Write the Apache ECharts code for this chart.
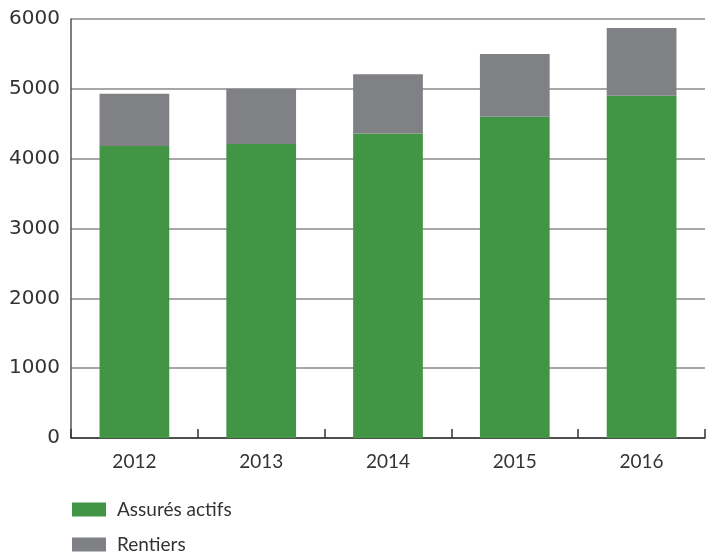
<!DOCTYPE html>
<html>
<head>
<meta charset="utf-8">
<script src="https://cdn.jsdelivr.net/npm/echarts@6/dist/echarts.min.js"></script>
<style>html,body{margin:0;padding:0;background:#fff}#c{width:707px;height:557px}</style>
</head>
<body>
<div id="c"></div>
<script>
const categories = ['2012', '2013', '2014', '2015', '2016'];
const assuresActifs = [4180, 4210, 4360, 4600, 4900];
const rentiers = [750, 790, 850, 900, 970];
const seriesNames = ['Assurés actifs', 'Rentiers'];

const chart = echarts.init(document.getElementById('c'));
const font = 'Lato, "Open Sans", sans-serif';
const legendBase = {
  left: 72, padding: 0,
  itemWidth: 34, itemHeight: 14,
  icon: 'rect',
  textStyle: { fontSize: 19, color: '#333', fontFamily: font, padding: [0, 0, 0, 6] }
};
chart.setOption({
  animation: false,
  textStyle: { fontFamily: font },
  grid: { left: 71, right: 2, top: 19, bottom: 119, containLabel: false },
  legend: [
    Object.assign({}, legendBase, { top: 500, data: [seriesNames[0]] }),
    Object.assign({}, legendBase, { top: 535, data: [seriesNames[1]] })
  ],
  xAxis: {
    type: 'category', data: categories,
    axisLine: { lineStyle: { color: '#333', width: 1.5 } },
    axisTick: { show: true, inside: true, length: 9, alignWithLabel: false, lineStyle: { color: '#333', width: 1.5 } },
    axisLabel: { fontSize: 19, color: '#333', margin: 14, fontFamily: font }
  },
  yAxis: {
    type: 'value', min: 0, max: 6000, interval: 1000,
    axisLine: { show: true, lineStyle: { color: '#555', width: 1.5 } },
    axisTick: { show: false },
    splitLine: { lineStyle: { color: '#8a8a8a', width: 1.5 } },
    axisLabel: { fontSize: 20, color: '#333', margin: 11, fontFamily: '"DejaVu Sans", sans-serif', formatter: v => String(v) }
  },
  series: [
    { name: seriesNames[0], type: 'bar', stack: 'a', data: assuresActifs, barWidth: '55%', itemStyle: { color: '#439546' } },
    { name: seriesNames[1], type: 'bar', stack: 'a', data: rentiers, barWidth: '55%', itemStyle: { color: '#808184' } }
  ]
});
</script>
</body>
</html>
